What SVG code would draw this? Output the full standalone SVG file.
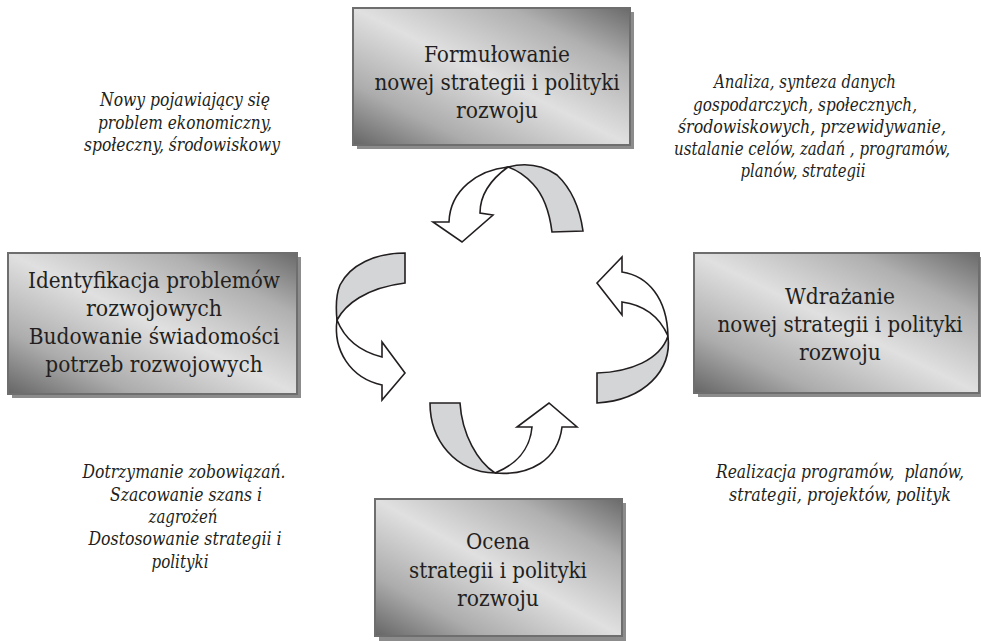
<svg xmlns="http://www.w3.org/2000/svg" width="981" height="641" viewBox="0 0 981 641">
<defs>
<linearGradient id="boxGrad" x1="0" y1="1" x2="1" y2="0">
<stop offset="0" stop-color="#656565"/>
<stop offset="0.22" stop-color="#acacac"/>
<stop offset="0.5" stop-color="#e0e0e0"/>
<stop offset="0.78" stop-color="#b0b0b0"/>
<stop offset="1" stop-color="#6a6a6a"/>
</linearGradient>
</defs>
<style>
.shadow{fill:#8c8c8c;}
.box{fill:url(#boxGrad);stroke:#6e6e6e;stroke-width:2;}
text{font-family:"DejaVu Serif Condensed","DejaVu Serif",serif;font-stretch:condensed;fill:#231f20;text-anchor:middle;}
.bt{font-size:23px;}
.it{font-size:18px;font-style:italic;}
.aw{fill:#ffffff;stroke:#231f20;stroke-width:1.6;stroke-linejoin:miter;}
.ag{fill:#d4d5d7;stroke:#231f20;stroke-width:1.6;stroke-linejoin:miter;}
</style>

<g id="node-formulowanie">
<rect class="shadow" x="357" y="12" width="277" height="137"/>
<rect class="box" x="353" y="8" width="277" height="137"/>
<text class="bt" x="497" y="62" textLength="145.8" lengthAdjust="spacingAndGlyphs">Formułowanie</text>
<text class="bt" x="497" y="90" textLength="245.2" lengthAdjust="spacingAndGlyphs">nowej strategii i polityki</text>
<text class="bt" x="497" y="118" textLength="81.9" lengthAdjust="spacingAndGlyphs">rozwoju</text>
</g>

<g id="node-identyfikacja">
<rect class="shadow" x="12" y="257" width="289" height="141"/>
<rect class="box" x="8" y="253" width="289" height="141"/>
<text class="bt" x="154" y="288" textLength="252" lengthAdjust="spacingAndGlyphs">Identyfikacja problemów</text>
<text class="bt" x="154" y="316" textLength="136.1" lengthAdjust="spacingAndGlyphs">rozwojowych</text>
<text class="bt" x="154" y="344" textLength="250.7" lengthAdjust="spacingAndGlyphs">Budowanie świadomości</text>
<text class="bt" x="154" y="372" textLength="217.3" lengthAdjust="spacingAndGlyphs">potrzeb rozwojowych</text>
</g>

<g id="node-wdrazanie">
<rect class="shadow" x="698" y="257" width="286" height="140"/>
<rect class="box" x="694" y="253" width="285" height="140"/>
<text class="bt" x="840" y="304" textLength="110" lengthAdjust="spacingAndGlyphs">Wdrażanie</text>
<text class="bt" x="840" y="332" textLength="245.2" lengthAdjust="spacingAndGlyphs">nowej strategii i polityki</text>
<text class="bt" x="840" y="360" textLength="81.9" lengthAdjust="spacingAndGlyphs">rozwoju</text>
</g>

<g id="node-ocena">
<rect class="shadow" x="379" y="503" width="247" height="140"/>
<rect class="box" x="375" y="499" width="247" height="137"/>
<text class="bt" x="498" y="549" textLength="63.9" lengthAdjust="spacingAndGlyphs">Ocena</text>
<text class="bt" x="498" y="578" textLength="177.8" lengthAdjust="spacingAndGlyphs">strategii i polityki</text>
<text class="bt" x="498" y="606" textLength="81.9" lengthAdjust="spacingAndGlyphs">rozwoju</text>
</g>

<g id="label-top-left">
<text class="it" x="185" y="106" textLength="170" lengthAdjust="spacingAndGlyphs">Nowy pojawiający się</text>
<text class="it" x="185" y="128.5" textLength="174" lengthAdjust="spacingAndGlyphs">problem ekonomiczny,</text>
<text class="it" x="182" y="151" textLength="196" lengthAdjust="spacingAndGlyphs">społeczny, środowiskowy</text>
</g>

<g id="label-top-right">
<text class="it" x="805" y="88" textLength="182" lengthAdjust="spacingAndGlyphs">Analiza, synteza danych</text>
<text class="it" x="805" y="110.5" textLength="224" lengthAdjust="spacingAndGlyphs">gospodarczych, społecznych,</text>
<text class="it" x="812" y="133" textLength="268" lengthAdjust="spacingAndGlyphs">środowiskowych, przewidywanie,</text>
<text class="it" x="812" y="155" textLength="276" lengthAdjust="spacingAndGlyphs">ustalanie celów, zadań , programów,</text>
<text class="it" x="803" y="177" textLength="125" lengthAdjust="spacingAndGlyphs">planów, strategii</text>
</g>

<g id="label-bottom-left">
<text class="it" x="184" y="478" textLength="203" lengthAdjust="spacingAndGlyphs">Dotrzymanie zobowiązań.</text>
<text class="it" x="186" y="500.5" textLength="152" lengthAdjust="spacingAndGlyphs">Szacowanie szans i</text>
<text class="it" x="183" y="523" textLength="69" lengthAdjust="spacingAndGlyphs">zagrożeń</text>
<text class="it" x="185" y="545" textLength="193" lengthAdjust="spacingAndGlyphs">Dostosowanie strategii i</text>
<text class="it" x="180" y="567.5" textLength="57" lengthAdjust="spacingAndGlyphs">polityki</text>
</g>

<g id="label-bottom-right">
<text class="it" x="840" y="478" textLength="248" lengthAdjust="spacingAndGlyphs" xml:space="preserve">Realizacja programów,  planów,</text>
<text class="it" x="840" y="501" textLength="222" lengthAdjust="spacingAndGlyphs">strategii, projektów, polityk</text>
</g>

<g id="connectors">
<g id="arrow-top">
<path class="ag" d="M 508,167 Q 535,160 557,175 Q 578,195 583,231 L 552,232 Q 548,200 533,184 Q 522,172 508,167 Z"/>
<path class="aw" d="M 508,167 C 478,170 450,190 449,222 L 433,222 L 462,242 L 493,215 L 480,213 C 480,195 490,180 508,167 Z"/>
</g>
<g id="arrow-left">
<path class="ag" d="M 405,253 C 375,253 350,265 340,285 C 335,297 336,310 337,320 C 345,305 365,288 405,283 Z"/>
<path class="aw" d="M 337,320 C 333,350 350,378 382,385 L 382,400 L 405,373 L 382,342 L 382,357 C 362,352 345,340 337,320 Z"/>
</g>
<g id="arrow-right">
<path class="aw" d="M 597,283 L 622,257 L 622,272 C 648,276 667,298 668,336 C 660,318 645,305 622,302 L 622,315 Z"/>
<path class="ag" d="M 668,336 C 672,370 645,400 597,403 L 597,373 C 630,372 660,360 668,336 Z"/>
</g>
<g id="arrow-bottom">
<path class="ag" d="M 430,403 C 430,440 455,472 495,473 C 478,462 462,435 460,403 Z"/>
<path class="aw" d="M 495,473 C 530,476 558,460 562,427 L 577,427 L 549,403 L 517,427 L 532,427 C 530,450 515,465 495,473 Z"/>
</g>
</g>
</svg>
